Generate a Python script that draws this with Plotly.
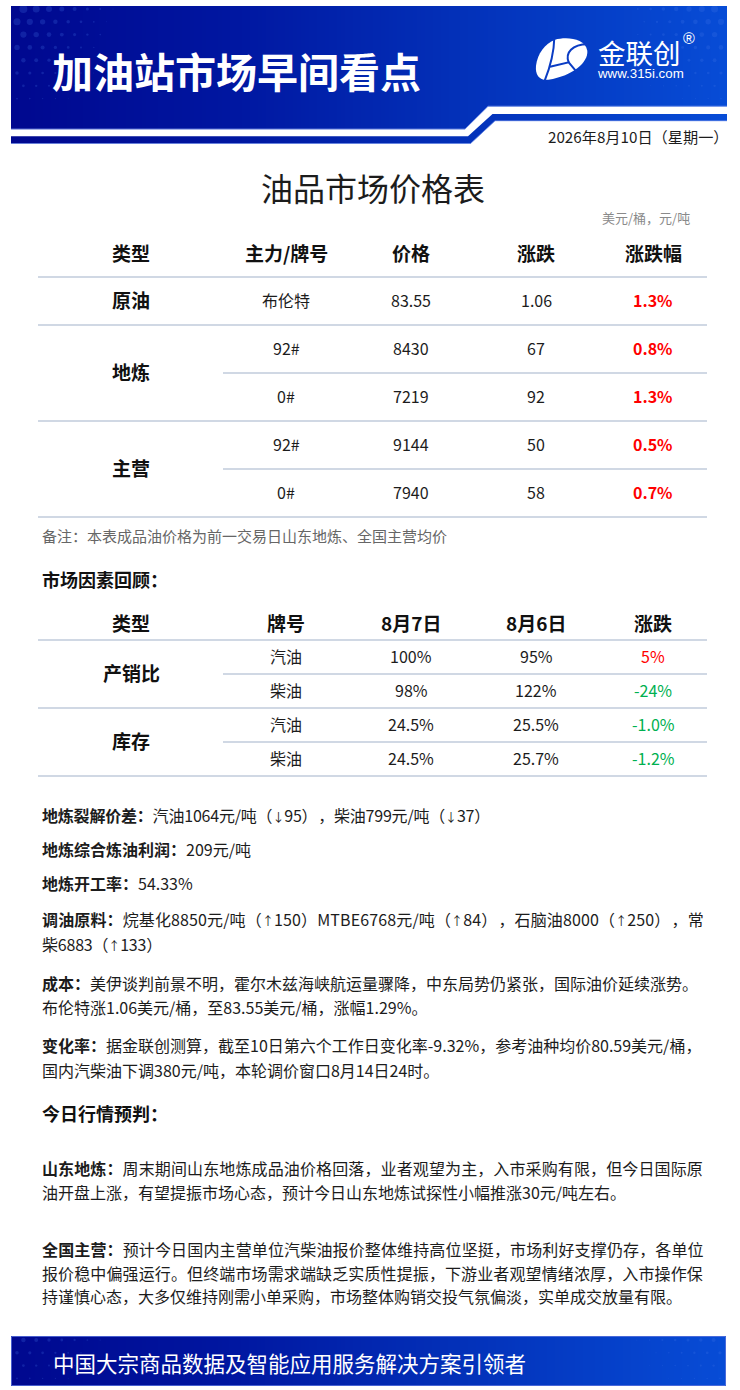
import plotly.graph_objects as go

FONT = "Noto Sans CJK SC"
LATIN = "Liberation Sans"
INK = "#1c1c1c"
RED = "#ff0000"
GREEN = "#00b050"
RULE = "#d0d8e4"
HAIR = "\u200a"

# ---------- data ----------
HEADER_TITLE = "加油站市场早间看点"
BRAND = "金联创"
SITE = "www.315i.com"
DATE_TEXT = "2026年8月10日（星期一）"
TABLE1_TITLE = "油品市场价格表"
UNIT_TEXT = "美元/桶，元/吨"
T1_HEAD = ["类型", "主力/牌号", "价格", "涨跌", "涨跌幅"]
T1_GROUPS = [("原油", 1), ("地炼", 2), ("主营", 2)]
T1_BRANDS = ["布伦特", "92#", "0#", "92#", "0#"]
T1_PRICE = ["83.55", "8430", "7219", "9144", "7940"]
T1_CHANGE = ["1.06", "67", "92", "50", "58"]
T1_PCT = ["1.3%", "0.8%", "1.3%", "0.5%", "0.7%"]
NOTE = "备注：本表成品油价格为前一交易日山东地炼、全国主营均价"
SECTION_1 = "市场因素回顾："
T2_HEAD = ["类型", "牌号", "8月7日", "8月6日", "涨跌"]
T2_GROUPS = [("产销比", 2), ("库存", 2)]
T2_BRANDS = ["汽油", "柴油", "汽油", "柴油"]
T2_AUG7 = ["100%", "98%", "24.5%", "24.5%"]
T2_AUG6 = ["95%", "122%", "25.5%", "25.7%"]
T2_CHANGE = ["5%", "-24%", "-1.0%", "-1.2%"]
SECTION_2 = "今日行情预判："
BODY = [
    ("地炼裂解价差：", f"汽油1064元/吨（↓95）{HAIR}，柴油799元/吨（↓37）"),
    ("地炼综合炼油利润：", "209元/吨"),
    ("地炼开工率：", "54.33%"),
    ("调油原料：", f"烷基化8850元/吨（↑150）MTBE6768元/吨（↑84）{HAIR}，石脑油8000（↑250）{HAIR}，常"),
    ("", "柴6883（↑133）"),
    ("成本：", "美伊谈判前景不明，霍尔木兹海峡航运量骤降，中东局势仍紧张，国际油价延续涨势。"),
    ("", "布伦特涨1.06美元/桶，至83.55美元/桶，涨幅1.29%。"),
    ("变化率：", "据金联创测算，截至10日第六个工作日变化率-9.32%，参考油种均价80.59美元/桶，"),
    ("", "国内汽柴油下调380元/吨，本轮调价窗口8月14日24时。"),
    ("山东地炼：", "周末期间山东地炼成品油价格回落，业者观望为主，入市采购有限，但今日国际原"),
    ("", "油开盘上涨，有望提振市场心态，预计今日山东地炼试探性小幅推涨30元/吨左右。"),
    ("全国主营：", "预计今日国内主营单位汽柴油报价整体维持高位坚挺，市场利好支撑仍存，各单位"),
    ("", "报价稳中偏强运行。但终端市场需求端缺乏实质性提振，下游业者观望情绪浓厚，入市操作保"),
    ("", "持谨慎心态，大多仅维持刚需小单采购，市场整体购销交投气氛偏淡，实单成交放量有限。"),
]
FOOTER_TEXT = "中国大宗商品数据及智能应用服务解决方案引领者"

# ---------- layout positions (page pixels) ----------
COLS = [131, 286, 411, 536, 653]
T1_RULES = [277, 325, 373, 421, 469, 517]
T1_SUBRULES = [373, 469]
T1_ROWS = [301, 349, 397, 445, 493]
T2_RULES = [640, 674, 708, 742, 776]
T2_SUBRULES = [674, 742]
T2_ROWS = [657, 691, 725, 759]
BODY_Y = [816, 850, 884, 920, 945, 984, 1008, 1046, 1071, 1169, 1193, 1250, 1274, 1297]
# tracking that stands in for the justified / narrower setting of individual lines
BODY_TRACK = [-0.2, 0, 0, 0.13, -0.2, 0, 0, 0, 0, 0.12, 0, 0.14, 0.12, 0]

annotations, shapes, traces = [], [], []


def text(x, y, s, size, color=INK, anchor="center", bold=False, family=FONT):
    annotations.append(dict(
        x=x - (1 if anchor == "left" else 0), y=y - 1.2, xref="x", yref="y", text=s,
        showarrow=False, xanchor=anchor, yanchor="middle", borderpad=0, align=anchor,
        font=dict(family=family, size=size, color=color, weight=700 if bold else 400)))


def rule(y, x0=38, x1=707):
    shapes.append(dict(type="line", xref="x", yref="y", x0=x0, x1=x1, y0=y, y1=y,
                       line=dict(color=RULE, width=2), layer="above"))


def gradient(x0, x1, y0, y1):
    n = 180
    w = (x1 - x0) / n
    traces.append(go.Heatmap(
        z=[[i / (n - 1) for i in range(n)]],
        x0=x0 + w / 2, dx=w, y0=(y0 + y1) / 2, dy=y1 - y0,
        zmin=0, zmax=1, showscale=False, hoverinfo="skip",
        colorscale=[[0, "#00088f"], [0.3, "#0016a0"], [0.62, "#0330b8"], [1, "#074cd6"]]))


def dots(xs0, y0, rows, pitch, size_top, right=False, x_edge=11):
    xs, ys, ss = [], [], []
    for r in range(rows):
        offset = 0 if r % 2 else pitch / 2
        for c in range(8):
            d = offset + c * pitch
            s = size_top * (1 - c / 8) * (1 - r / (rows + 1))
            if s < 0.8:
                continue
            xs.append(x_edge + xs0 + d if not right else x_edge - xs0 - d)
            ys.append(y0 + r * pitch)
            ss.append(s)
    traces.append(go.Scatter(x=xs, y=ys, mode="markers", hoverinfo="skip", showlegend=False,
                             marker=dict(size=ss, color="rgba(70,120,235,0.33)", line=dict(width=0))))


def poly(points, fill="#ffffff"):
    d = "M" + " L".join(f"{x},{y}" for x, y in points) + " Z"
    shapes.append(dict(type="path", xref="x", yref="y", path=d, fillcolor=fill,
                       line=dict(width=0), layer="above"))


def edge(points, color="rgba(120,150,235,0.7)"):
    d = "M" + " L".join(f"{x},{y}" for x, y in points)
    shapes.append(dict(type="path", xref="x", yref="y", path=d,
                       line=dict(color=color, width=1), layer="above"))


# ---------- header ----------
gradient(11, 727, 6, 144)
dots(6, 9, 8, 12.8, 8)
dots(6, 9, 8, 12.8, 7, right=True, x_edge=727)
poly([(0, 0), (740, 0), (740, 6), (0, 6)])
poly([(0, 0), (11, 0), (11, 150), (0, 150)])
poly([(727, 0), (740, 0), (740, 150), (727, 150)])
poly([(11, 129.3), (465, 129.3), (488, 106.5), (727, 106.5), (727, 114), (492.5, 114),
      (468, 136.3), (11, 136.3)])
poly([(11, 143.7), (470.5, 143.7), (495, 121), (727, 121), (727, 144), (11, 144)])
edge([(11, 129), (465, 129), (488, 106.2), (727, 106.2)])
edge([(11, 143.5), (470.5, 143.5), (495, 120.8), (727, 120.8)])
text(236, 71, HEADER_TITLE, 41, "#ffffff", bold=True)


# logo: drawn in crop coordinates, mapped on to the page
def L(u, v):
    return f"{530 + u / 3:.1f},{34 + v / 3:.1f}"


logo_outline = ("M" + L(75, 17) + " C" + L(105, 8) + " " + L(165, 10) + " " + L(172, 50) +
                " C" + L(175, 85) + " " + L(130, 125) + " " + L(55, 137) +
                " C" + L(30, 140) + " " + L(15, 125) + " " + L(18, 95) +
                " C" + L(22, 60) + " " + L(45, 28) + " " + L(75, 17) + " Z")
shapes.append(dict(type="path", xref="x", yref="y", path=logo_outline, fillcolor="#ffffff",
                   line=dict(width=0), layer="above"))
logo_cuts = [
    "M" + L(73, 12) + " C" + L(72, 55) + " " + L(60, 100) + " " + L(44, 140),
    "M" + L(60, 98) + " L" + L(116, 85) + " L" + L(142, 116),
    "M" + L(116, 85) + " C" + L(105, 58) + " " + L(125, 30) + " " + L(176, 31),
]
for cut in logo_cuts:
    shapes.append(dict(type="path", xref="x", yref="y", path=cut,
                       line=dict(color="#0a3cc4", width=2), layer="above"))
text(639.5, 53.5, BRAND, 27.5, "#ffffff")
text(640, 74.5, SITE, 13.3, "#ffffff", family=LATIN)
text(689, 40, "®", 16, "#ffffff", family=LATIN)
text(730, 137, DATE_TEXT, 15.2, INK, anchor="right")

# ---------- table 1 ----------
text(373, 188, TABLE1_TITLE, 32, INK)
text(691, 219, UNIT_TEXT, 13, "#8a8a8a", anchor="right")
for x, h in zip(COLS, T1_HEAD):
    text(x, 254, h, 19, "#111111", bold=True)
for y in T1_RULES:
    rule(y, 223 if y in T1_SUBRULES else 38)
i = 0
for name, span in T1_GROUPS:
    text(COLS[0], sum(T1_ROWS[i:i + span]) / span, name, 19, "#111111", bold=True)
    i += span
for y, a, b, c, d in zip(T1_ROWS, T1_BRANDS, T1_PRICE, T1_CHANGE, T1_PCT):
    text(COLS[1], y, a, 16)
    text(COLS[2], y, b, 16)
    text(COLS[3], y, c, 16)
    text(COLS[4], y, d, 16, RED, bold=True)
text(42, 536.5, NOTE, 15, "#666666", anchor="left")

# ---------- table 2 ----------
text(42, 580.5, SECTION_1, 18, "#111111", anchor="left", bold=True)
for x, h in zip(COLS, T2_HEAD):
    text(x, 624, h, 19, "#111111", bold=True)
for y in T2_RULES:
    rule(y, 223 if y in T2_SUBRULES else 38)
i = 0
for name, span in T2_GROUPS:
    text(COLS[0], sum(T2_ROWS[i:i + span]) / span, name, 19, "#111111", bold=True)
    i += span
for y, a, b, c, d in zip(T2_ROWS, T2_BRANDS, T2_AUG7, T2_AUG6, T2_CHANGE):
    text(COLS[1], y, a, 16)
    text(COLS[2], y, b, 16)
    text(COLS[3], y, c, 16)
    text(COLS[4], y, d, 16, GREEN if d.startswith("-") else RED)


# ---------- body ----------
def styled(rest):
    for arrow in "↓↑":
        rest = rest.replace(arrow, f'<span style="font-size:12px">{arrow}</span>')
    return rest


for y, (lead, rest), track in zip(BODY_Y, BODY, BODY_TRACK):
    s = (f"<b>{lead}</b>" if lead else "") + styled(rest)
    if track:
        s = f'<span style="letter-spacing:{track}px">{s}</span>'
    text(42, y, s, 16, INK, anchor="left")
text(42, 1114.5, SECTION_2, 18, "#111111", anchor="left", bold=True)

# ---------- footer ----------
gradient(11, 726, 1336, 1386)
dots(6, 1340, 4, 12.8, 4.5)
dots(6, 1340, 4, 12.8, 4, right=True, x_edge=726)
poly([(0, 1330), (11, 1330), (11, 1390), (0, 1390)])
poly([(726, 1330), (740, 1330), (740, 1390), (726, 1390)])
edge([(11.5, 1336.5), (725.5, 1336.5), (725.5, 1385.5), (11.5, 1385.5), (11.5, 1336.5)],
     "rgba(90,115,220,0.8)")
text(52.5, 1363.5, FOOTER_TEXT, 21.5, "#ffffff", anchor="left")

fig = go.Figure(traces)
fig.update_layout(
    width=740, height=1390, margin=dict(l=0, r=0, t=0, b=0),
    paper_bgcolor="#ffffff", plot_bgcolor="#ffffff", showlegend=False,
    xaxis=dict(range=[0, 740], visible=False, fixedrange=True),
    yaxis=dict(range=[1390, 0], visible=False, fixedrange=True),
    annotations=annotations, shapes=shapes,
)
fig.write_html("out.html", config={"displayModeBar": False},
               post_script="document.body.style.margin='0';")
